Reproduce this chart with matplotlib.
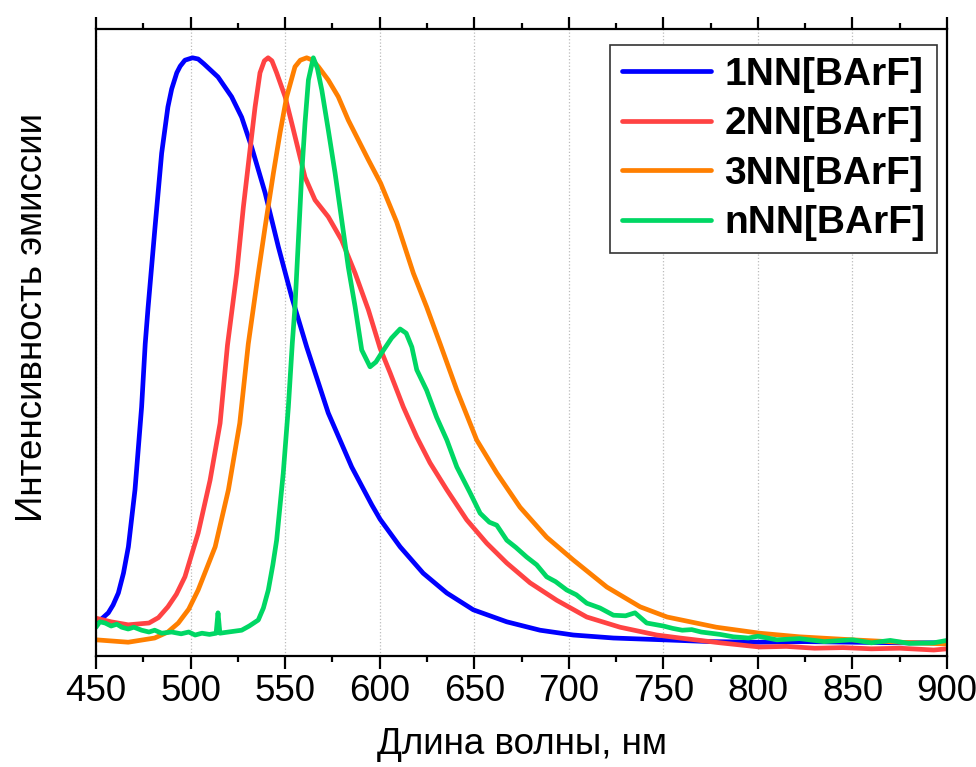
import numpy as np
import matplotlib
matplotlib.use('Agg')
import matplotlib.pyplot as plt
from matplotlib.ticker import MultipleLocator

plt.rcParams['font.family'] = ['Liberation Sans', 'DejaVu Sans']

# спектры эмиссии (нормированные)
wl_1 = [450, 453, 456.5, 459, 461.8, 464.5, 467.1, 470.6, 474.1, 476, 477.5, 481.2, 484.7,
        486.5, 488, 490, 492.7, 494.5, 497, 501, 504, 507, 514.5, 521.7, 527, 532.3,
        539.4, 546.4, 553.5, 561.4, 572.8, 585.2, 595.8, 600.2, 610.8, 623, 635.5,
        649.5, 667.2, 684.8, 702.4, 723.6, 750, 775, 800, 825, 850, 875, 900]
int_1 = [0.058, 0.062, 0.072, 0.085, 0.105, 0.138, 0.182, 0.277, 0.415, 0.52, 0.58, 0.715,
         0.838, 0.880, 0.915, 0.945, 0.972, 0.983, 0.993, 0.997, 0.995, 0.987, 0.965,
         0.932, 0.898, 0.848, 0.772, 0.682, 0.598, 0.515, 0.405, 0.315, 0.252, 0.228,
         0.182, 0.138, 0.105, 0.077, 0.057, 0.043, 0.035, 0.030, 0.027, 0.024, 0.023,
         0.024, 0.023, 0.022, 0.022]

wl_2 = [450, 458, 467, 478, 483, 488, 492.5, 497, 504, 510.3, 515.6, 519.5, 524.4, 527.9,
        531.4, 534.1, 536.7, 539, 541, 543, 545.5, 550, 553.5, 557, 560.5, 565.8, 572.8,
        579.9, 587, 594, 600.2, 605.5, 612.5, 619.6, 626.6, 635.5, 646, 656.6, 667.2,
        679.5, 693.6, 709.5, 727.1, 746.5, 758.8, 780, 801, 815, 830, 845, 860, 875,
        893, 900]
int_2 = [0.063, 0.057, 0.052, 0.055, 0.064, 0.082, 0.103, 0.132, 0.205, 0.293, 0.388,
         0.518, 0.638, 0.748, 0.843, 0.915, 0.972, 0.992, 0.997, 0.992, 0.972, 0.932,
         0.888, 0.843, 0.798, 0.760, 0.732, 0.693, 0.638, 0.577, 0.513, 0.472, 0.415,
         0.365, 0.322, 0.277, 0.227, 0.188, 0.155, 0.122, 0.093, 0.065, 0.048, 0.035,
         0.030, 0.022, 0.015, 0.016, 0.013, 0.014, 0.012, 0.013, 0.010, 0.012]

wl_3 = [450, 467, 481, 488, 493.5, 499, 504, 513, 520, 526, 530.5, 535.8, 539.4, 543.8,
        547.3, 550.8, 555.2, 558, 561.4, 564.5, 567.6, 572.8, 578.1, 583.4, 588.7, 594,
        600.5, 609, 617.8, 624.8, 632, 640.8, 651.3, 661.9, 674.2, 688.3, 702.4, 720.1,
        737.7, 752, 778, 801, 822, 850, 875, 900]
int_3 = [0.027, 0.023, 0.030, 0.040, 0.055, 0.078, 0.110, 0.182, 0.277, 0.388, 0.520,
         0.638, 0.715, 0.805, 0.872, 0.932, 0.982, 0.993, 0.997, 0.993, 0.982, 0.960,
         0.932, 0.893, 0.860, 0.827, 0.788, 0.723, 0.638, 0.582, 0.520, 0.443, 0.360,
         0.305, 0.248, 0.198, 0.160, 0.115, 0.082, 0.065, 0.048, 0.038, 0.032, 0.027,
         0.023, 0.020]

wl_n = [450, 452, 454.8, 458, 461, 463.6, 467, 470, 474.1, 478, 481, 484.7, 490, 495,
        499, 502.4, 506, 510, 513.5, 514.5, 515.5, 520, 527, 531, 535.8, 538.5, 541.1,
        543.5, 545.5, 549, 551.7, 553.8, 555.2, 557, 558.8, 560.5, 562.3, 564.9, 567,
        569.4, 572.8, 576.4, 579.9, 583.4, 587, 590.5, 594.9, 598, 601, 606.3, 610.8,
        614, 617, 619.6, 624.8, 630.1, 635.5, 640.8, 647.8, 653.1, 658, 661.9, 667.2,
        672, 677.7, 683, 688.3, 693, 698.9, 704, 709.5, 716.5, 723.6, 730, 735, 741.2,
        750, 755, 760, 765, 770, 780, 787, 795, 800, 810, 822, 835, 850, 860, 870, 880,
        893, 900]
int_n = [0.048, 0.057, 0.055, 0.050, 0.053, 0.048, 0.045, 0.048, 0.043, 0.040, 0.043,
         0.038, 0.040, 0.037, 0.040, 0.035, 0.038, 0.036, 0.038, 0.072, 0.038, 0.040,
         0.043, 0.050, 0.060, 0.080, 0.110, 0.152, 0.193, 0.305, 0.415, 0.522, 0.582,
         0.693, 0.805, 0.888, 0.960, 0.997, 0.980, 0.943, 0.877, 0.805, 0.727, 0.648,
         0.582, 0.510, 0.482, 0.490, 0.505, 0.530, 0.545, 0.538, 0.515, 0.477, 0.443,
         0.398, 0.360, 0.315, 0.272, 0.238, 0.223, 0.218, 0.193, 0.181, 0.165, 0.152,
         0.132, 0.124, 0.110, 0.102, 0.088, 0.080, 0.068, 0.067, 0.072, 0.055, 0.050,
         0.046, 0.043, 0.044, 0.040, 0.036, 0.032, 0.030, 0.033, 0.027, 0.029, 0.024,
         0.027, 0.022, 0.026, 0.021, 0.022, 0.026]

названия = ['1NN[BArF]', '2NN[BArF]', '3NN[BArF]', 'nNN[BArF]']
цвета = ['#0000ff', '#ff4343', '#ff7f00', '#00d764']

fig = plt.figure(figsize=(9.76, 7.67), dpi=100)
ax = fig.add_axes([0.0984, 0.1447, 0.8719, 0.8175])

for x, y, lab, c in zip([wl_1, wl_2, wl_3, wl_n], [int_1, int_2, int_3, int_n], названия, цвета):
    ax.plot(x, y, color=c, lw=3.4, label=lab, solid_capstyle='round')

ax.set_xlim(450, 900)
ax.set_ylim(0, 1.045)
ax.xaxis.set_major_locator(MultipleLocator(50))
ax.xaxis.set_minor_locator(MultipleLocator(25))
ax.set_yticks([])
ax.grid(axis='x', color='#bbbbbb', ls=':', lw=0.9)

ax.tick_params(axis='x', which='both', direction='out', top=True, width=1.6,
               labelsize=26.5, pad=4)
ax.tick_params(axis='x', which='major', length=9)
ax.tick_params(axis='x', which='minor', length=4.5)
for s in ax.spines.values():
    s.set_linewidth(1.6)

ax.set_xlabel('Длина волны, нм', fontsize=26.5, labelpad=13)
ax.set_ylabel('Интенсивность эмиссии', fontsize=26.5, labelpad=33, y=0.54)

leg = ax.legend(loc='upper right', bbox_to_anchor=(0.988, 0.9745), borderaxespad=0,
                fancybox=False, edgecolor='#333333', framealpha=1,
                prop={'size': 28, 'weight': 'bold'}, handlelength=2.3,
                handletextpad=0.33, labelspacing=0.35, borderpad=0.3)
leg.get_frame().set_linewidth(1.2)

fig.savefig('out.png', dpi=100)
